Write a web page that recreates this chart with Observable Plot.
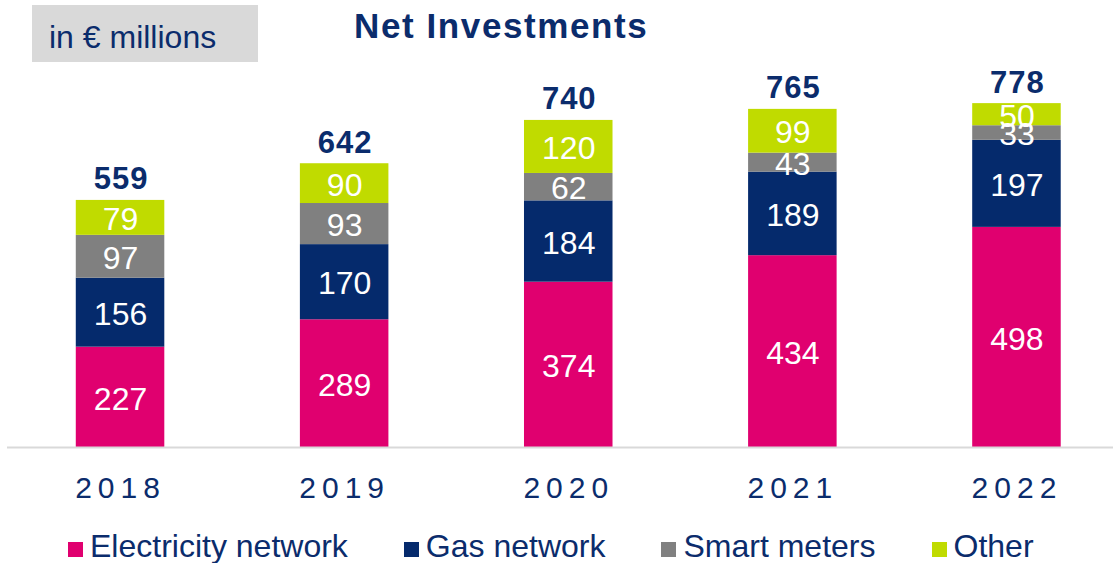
<!DOCTYPE html>
<html>
<head>
<meta charset="utf-8">
<script src="https://cdn.jsdelivr.net/npm/d3@7"></script>
<script src="https://cdn.jsdelivr.net/npm/@observablehq/plot@0.6"></script>
<style>
  html, body { margin: 0; padding: 0; background: #ffffff; }
  #wrap { position: relative; width: 1114px; height: 563px; overflow: hidden;
          font-family: "Liberation Sans", Arial, sans-serif; color: #0b2c6c; }
  #unitbox { position: absolute; left: 32px; top: 5px; width: 226px; height: 57px; background: #d9d9d9; }
  #unit { position: absolute; left: 17px; top: 15.6px; font-size: 32px; line-height: 32px; white-space: nowrap; }
  #title { position: absolute; left: 354px; top: 7.7px; font-size: 35px; line-height: 35px; font-weight: bold;
           letter-spacing: 1.6px; white-space: nowrap; }
  #legend { position: absolute; left: 68px; top: 529.9px; display: flex; gap: 56px; font-size: 32px; line-height: 32px;
            white-space: nowrap; }
  .item { display: flex; align-items: flex-start; }
  .sw { width: 15px; height: 15px; margin-top: 12.1px; margin-right: 7px; }
  #chart { position: absolute; left: 0; top: 0; }
</style>
</head>
<body>
<div id="wrap">
  <div id="chart"></div>
  <div id="unitbox"><div id="unit">in € millions</div></div>
  <div id="title">Net Investments</div>
  <div id="legend"></div>
</div>
<script>
// ---- data ----
const years = ["2018", "2019", "2020", "2021", "2022"];
const seriesNames = ["Electricity network", "Gas network", "Smart meters", "Other"];
const electricity = [227, 289, 374, 434, 498];
const gas = [156, 170, 184, 189, 197];
const smartMeters = [97, 93, 62, 43, 33];
const other = [79, 90, 120, 99, 50];
const totals = [559, 642, 740, 765, 778];
const colors = ["#e0006f", "#052a6c", "#808080", "#c0db00"];

const navy = "#0b2c6c";
const seriesValues = [electricity, gas, smartMeters, other];
const rows = [];
years.forEach((y, i) => {
  seriesNames.forEach((s, j) => rows.push({year: y, series: s, value: seriesValues[j][i]}));
});
const totalRows = years.map((y, i) => ({year: y, total: totals[i]}));

const chart = Plot.plot({
  width: 1114,
  height: 563,
  marginTop: 5,
  marginBottom: 116,
  marginLeft: 7,
  marginRight: 1,
  style: {fontFamily: "'Liberation Sans', Arial, sans-serif", background: "transparent", overflow: "visible"},
  x: {type: "band", domain: years, range: [8.55, 1127.95], paddingInner: 0.605, paddingOuter: 0.3, align: 0.5, round: false, label: null},
  y: {domain: [0, 1000], axis: null},
  color: {domain: seriesNames, range: colors},
  marks: [
    Plot.barY(rows, {x: "year", y: "value", z: "series", fill: "series", order: seriesNames}),
    Plot.ruleY([0], {stroke: "#d9d9d9", strokeWidth: 2}),
    Plot.text(rows, Plot.stackY({x: "year", y: "value", z: "series", order: seriesNames,
      text: d => String(d.value), fill: "white", fontSize: 32, dy: 2})),
    Plot.text(totalRows, {x: "year", y: "total", text: d => String(d.total), lineAnchor: "bottom",
      dy: -11, dx: 0.5, fontSize: 31, fontWeight: "bold", fill: navy}),
    Plot.axisX({tickSize: 0, tickPadding: 29, fontSize: 30, color: navy, fill: navy, label: null})
  ]
});
document.getElementById("chart").appendChild(chart);

// letter spacing for totals and year labels
const textGroups = chart.querySelectorAll('g[aria-label="text"]');
if (textGroups.length > 1) textGroups[1].style.letterSpacing = "1px";
chart.querySelectorAll('g[aria-label="x-axis tick label"]').forEach(g => g.style.letterSpacing = "6px");

// legend
const legend = document.getElementById("legend");
seriesNames.forEach((s, j) => {
  const item = document.createElement("div");
  item.className = "item";
  const sw = document.createElement("div");
  sw.className = "sw";
  sw.style.background = colors[j];
  const label = document.createElement("span");
  label.textContent = s;
  item.appendChild(sw);
  item.appendChild(label);
  legend.appendChild(item);
});
</script>
</body>
</html>
